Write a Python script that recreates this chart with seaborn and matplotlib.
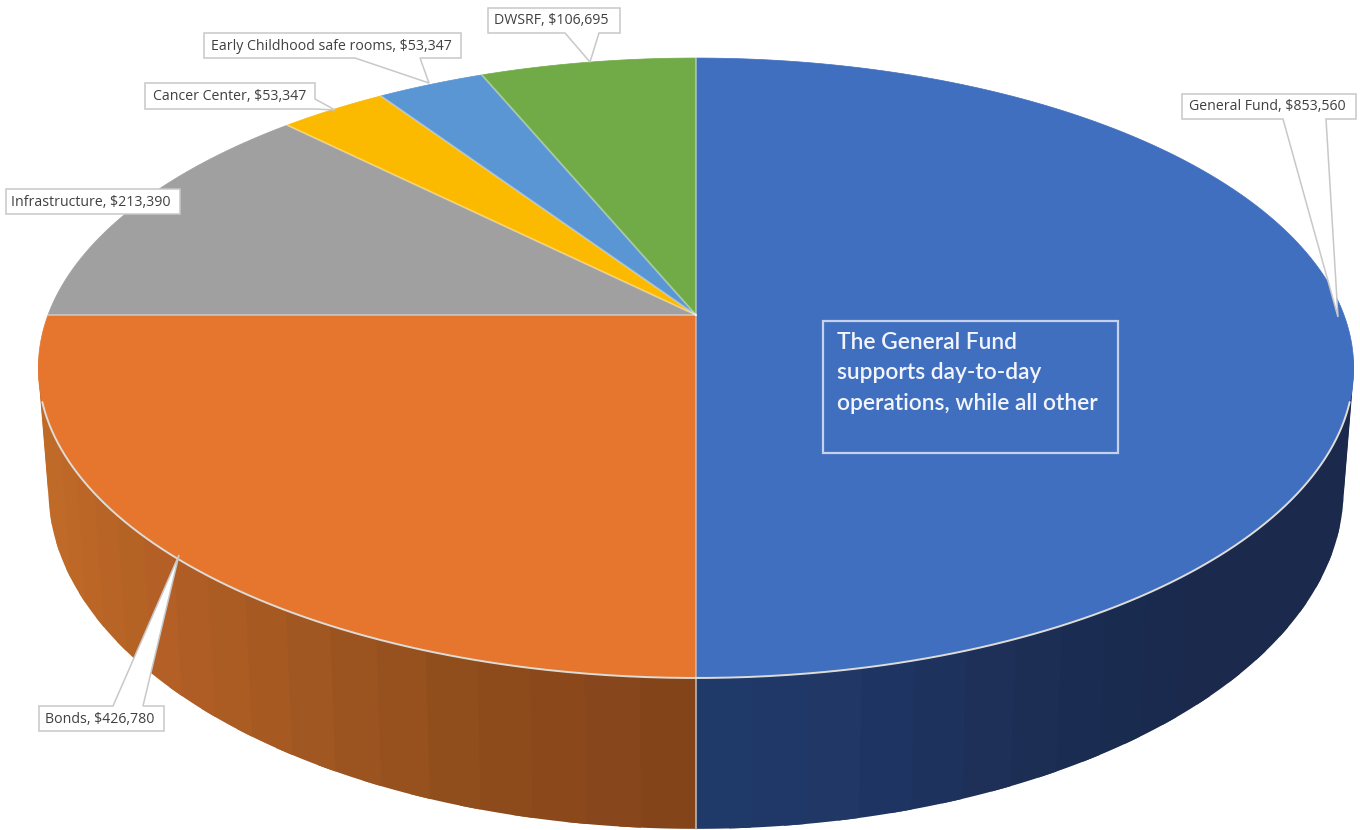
import numpy as np
import matplotlib
matplotlib.use("Agg")
import matplotlib.pyplot as plt
import seaborn as sns

# Budget amounts, clockwise from twelve o'clock
categories = ["General Fund", "Bonds", "Infrastructure", "Cancer Center",
              "Early Childhood safe rooms", "DWSRF"]
amounts = [853560, 426780, 213390, 53347, 53347, 106695]
colors = ["#416FC0", "#E6762D", "#A0A0A0", "#FBB900", "#5A96D3", "#70AB47"]
note_lines = ["The General Fund", "supports day-to-day", "operations, while all other"]

sns.set_theme(style="white")
plt.rcParams["font.family"] = ["Open Sans", "DejaVu Sans"]

fig, ax = plt.subplots(figsize=(13.6, 8.3), dpi=100)
fig.subplots_adjust(0, 0, 1, 1)
ax.set_xlim(0, 1360)
ax.set_ylim(830, 0)
ax.axis("off")

# Perspective view of a tilted disc
CX, CY = 696, 315
RX, RY, TILT = 648, 300.9, 0.171


def disc(theta_deg, rx=RX, ry=RY, cy=CY):
    th = np.radians(theta_deg)
    u, v = np.sin(th), np.cos(th)
    w = 1 + TILT * v
    return CX + rx * u / w, cy - ry * v / w


# Underside of the pie, seen a little further away from the viewer
BASE = dict(rx=638, ry=329, cy=432)

fractions = np.array(amounts) / np.sum(amounts)
edges = np.concatenate([[0], np.cumsum(fractions)]) * 360

# Side wall: narrow shaded bands for the two front slices
wall_ramps = {
    0: ["#1A294C", "#1A294C", "#1A294C", "#1A294C", "#1A294C", "#1A294C",
        "#1A2A4E", "#1B2C52", "#1E3057", "#1D3360", "#213766", "#1F3A68"],
    1: ["#84441A", "#8C4A1C", "#98521F", "#A85A22", "#B25F25", "#BA6526", "#C06A28", "#C16A28"],
}
wall_limits = {0: (98, edges[1]), 1: (edges[1], 262)}
for idx, (lo, hi) in wall_limits.items():
    n = 20
    steps = np.linspace(lo, hi, n + 1)
    shades = sns.blend_palette(wall_ramps[idx], n)
    width = steps[1] - steps[0]
    for a, shade in zip(steps[:-1], shades):
        # Each band runs under its neighbour so no seams show between them
        ts = np.linspace(a, min(a + 1.4 * width, hi), 12)
        tx, ty = disc(ts)
        bx, by = disc(ts, **BASE)
        ax.fill(np.r_[tx, bx[::-1]], np.r_[ty, by[::-1]], color=shade, lw=0, zorder=1)

# Seam between the two wall sections
seam_x0, seam_y0 = disc(edges[1])
seam_x1, seam_y1 = disc(edges[1], **BASE)
ax.plot([seam_x0, seam_x1], [seam_y0, seam_y1], color="#BDB8B2", lw=1.2, zorder=2)

# Top face wedges
for start, stop, color in zip(edges[:-1], edges[1:], colors):
    ts = np.linspace(start, stop, 300)
    x, y = disc(ts)
    ax.fill(np.r_[CX, x], np.r_[CY, y], facecolor=color, edgecolor=color, lw=0.5, zorder=3)
for start, color in zip(edges[:-1], colors):
    x, y = disc(np.array([start]))
    ax.plot([CX, x[0]], [CY, y[0]], color="white", alpha=0.4, lw=1.3, zorder=4)

# Pale rim along the front edge
rx, ry = disc(np.linspace(106, 254, 400))
ax.plot(rx, ry, color="#DEDCD8", lw=1.4, zorder=5)

# Label callouts: box, then the points of the pointer
callouts = [
    ((1182, 94, 1356, 119), [(1283, 119), (1338, 317), (1326, 119)], (1189, 107)),
    ((39, 706, 164, 731), [(143, 706), (179, 555), (113, 706)], (45, 719)),
    ((6, 189, 180, 214), [], (11, 202)),
    ((145, 83, 315, 109), [(315, 99), (335, 110), (315, 109)], (153, 96)),
    ((204, 33, 461, 58), [(355, 58), (429, 83), (420, 58)], (211, 46)),
    ((488, 8, 620, 33), [(565, 33), (590, 62), (599, 33)], (494, 21)),
]
for name, amount, (box, pointer, text_at) in zip(categories, amounts, callouts):
    x0, y0, x1, y1 = box
    if pointer and pointer[0][1] == y1:
        outline = [(x0, y0), (x1, y0), (x1, y1)] + pointer[::-1] + [(x0, y1)]
    elif pointer and pointer[0][1] == y0:
        outline = [(x0, y0)] + pointer[::-1] + [(x1, y0), (x1, y1), (x0, y1)]
    elif pointer:
        outline = [(x0, y0), (x1, y0)] + pointer + [(x0, y1)]
    else:
        outline = [(x0, y0), (x1, y0), (x1, y1), (x0, y1)]
    px, py = zip(*outline)
    ax.fill(px, py, facecolor="white", edgecolor="#C8C8C8", lw=1.1, zorder=6, joinstyle="miter")
    ax.text(text_at[0], text_at[1], f"{name}, ${amount:,}", fontsize=10.2, color="#404040",
            ha="left", va="center", zorder=7)

# Note box on the General Fund slice
ax.add_patch(plt.Rectangle((823, 321), 295, 132, facecolor="none", edgecolor="#C6D2EA", lw=1.6, zorder=6))
for line, y in zip(note_lines, [342, 372, 403]):
    ax.text(837, y, line, fontsize=16.4, color="#F2F5FB", fontweight="semibold",
            family=["Lato", "DejaVu Sans"], ha="left", va="center", zorder=7)

fig.savefig("out.png", dpi=100, facecolor="white")
